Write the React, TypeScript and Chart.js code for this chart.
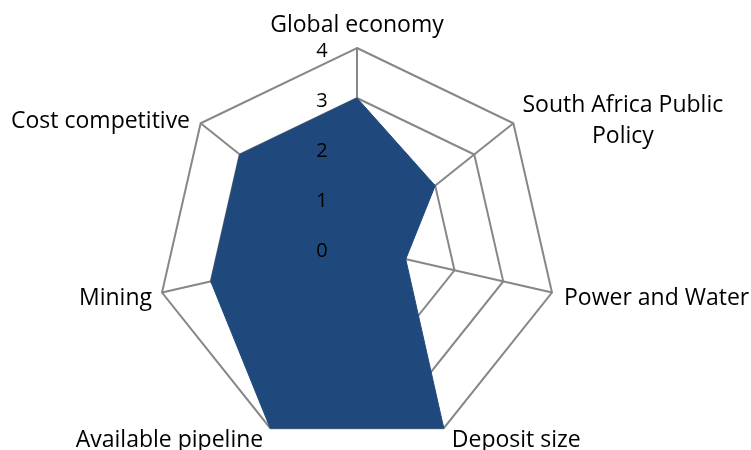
import React, { useEffect, useRef } from "react";
import { Chart, registerables } from "chart.js";

Chart.register(...registerables);

const categories: (string | string[])[] = [
  "Global economy",
  ["South Africa Public", "Policy"],
  "Power and Water",
  "Deposit size",
  "Available pipeline",
  "Mining",
  "Cost competitive",
];
const scores = [3, 2, 1, 4, 4, 3, 3];
const tickValues = [0, 1, 2, 3, 4];

const FONT = "'Open Sans', Lato, sans-serif";

const labelPlugin = {
  id: "customLabels",
  afterDraw(chart: any) {
    const scale = chart.scales.r;
    const ctx = chart.ctx;
    ctx.save();
    ctx.fillStyle = "#000";
    // ticks
    ctx.font = `20px ${FONT}`;
    ctx.textAlign = "center";
    ctx.textBaseline = "middle";
    tickValues.forEach((v) => {
      const d = scale.getDistanceFromCenterForValue(v);
      ctx.fillText(String(v), scale.xCenter - 35, scale.yCenter - d + 3);
    });
    // point labels
    ctx.font = `23px ${FONT}`;
    const R = scale.drawingArea;
    const offs = [
      { dx: 0, dy: -16, align: "center" },
      { dx: 109.5, dy: -11.3, align: "center" },
      { dx: 12, dy: 12.5, align: "left" },
      { dx: 8, dy: 19, align: "left" },
      { dx: -7, dy: 19, align: "right" },
      { dx: -10, dy: 12.5, align: "right" },
      { dx: -10.6, dy: 4.7, align: "right" },
    ];
    categories.forEach((lab, i) => {
      const p = scale.getPointPosition(i, R);
      const o = offs[i];
      const lines = Array.isArray(lab) ? lab : [lab];
      const lh = 31;
      ctx.textAlign = o.align;
      ctx.textBaseline = "alphabetic";
      lines.forEach((ln, k) => ctx.fillText(ln, p.x + o.dx, p.y + o.dy + k * lh));
    });
    ctx.restore();
  },
};

export default function App() {
  const ref = useRef<HTMLCanvasElement>(null);
  useEffect(() => {
    const chart = new Chart(ref.current!, {
      type: "radar",
      data: {
        labels: categories,
        datasets: [
          {
            data: scores,
            backgroundColor: "#1f497d",
            borderColor: "#1f497d",
            borderWidth: 1,
            pointRadius: 0,
            fill: true,
          },
        ],
      },
      options: {
        responsive: false,
        animation: false,
        layout: { padding: { left: 157, top: 48, right: 194, bottom: 2 } },
        plugins: { legend: { display: false }, tooltip: { enabled: false } },
        scales: {
          r: {
            min: 0,
            max: 4,
            ticks: { display: false, stepSize: 1 },
            pointLabels: { display: false },
            grid: { color: "#878787", lineWidth: 2 },
            angleLines: { color: "#878787", lineWidth: 2 },
          },
        },
      },
      plugins: [labelPlugin],
    });
    return () => chart.destroy();
  }, []);
  return (
    <canvas
      ref={ref}
      width={751}
      height={450}
      style={{ position: "absolute", left: 0, top: 0, width: 751, height: 450 }}
    />
  );
}
